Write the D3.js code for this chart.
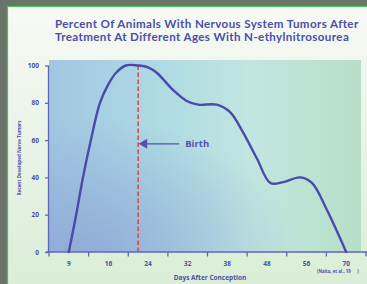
<!DOCTYPE html>
<html>
<head>
<meta charset="utf-8">
<script src="https://cdn.jsdelivr.net/npm/d3@7"></script>
<style>
  body { margin: 0; background: #6b7469; }
  svg { display: block; font-family: "Open Sans", sans-serif; font-weight: bold; }
</style>
</head>
<body>
<svg id="chart"></svg>
<script>
const width = 367;
const height = 284;

// data
const dayLabels = ['9', '16', '24', '32', '38', '48', '56', '70'];
const yTicks = [0, 20, 40, 60, 80, 100];
const days = [9, 10.3, 11.5, 12.9, 14.5, 16, 17.5, 19.5, 22, 24, 25.8, 29, 31.8, 33.6, 36.4, 38.7, 42, 45.5, 48.7, 51.3, 54.7, 57.9, 63.2, 70];
const tumors = [0, 20, 40, 60, 80, 90, 96, 100, 100, 99, 96, 87, 81, 79, 79, 75, 64, 50, 37, 37.5, 40, 37, 22.5, 0];
const birthDay = 22;

const textColor = '#4b4fa6';
const axisColor = '#5d68b6';

const svg = d3.select('#chart')
    .attr('width', width)
    .attr('height', height);

const defs = svg.append('defs');

const panelGrad = defs.append('linearGradient').attr('id', 'panel')
    .attr('x1', 0).attr('y1', 0).attr('x2', 0).attr('y2', 1);
panelGrad.append('stop').attr('offset', '0%').attr('stop-color', '#f7f9f5');
panelGrad.append('stop').attr('offset', '100%').attr('stop-color', '#d9eed6');

const plotGrad = defs.append('linearGradient').attr('id', 'plotH')
    .attr('x1', 0).attr('y1', 0).attr('x2', 1).attr('y2', 0);
plotGrad.append('stop').attr('offset', '0%').attr('stop-color', '#a2c6e2');
plotGrad.append('stop').attr('offset', '35%').attr('stop-color', '#aedae4');
plotGrad.append('stop').attr('offset', '65%').attr('stop-color', '#c2e6e0');
plotGrad.append('stop').attr('offset', '100%').attr('stop-color', '#b7dfc6');

const plotGradV = defs.append('radialGradient').attr('id', 'plotV')
    .attr('cx', 0.1).attr('cy', 1).attr('r', 0.7);
plotGradV.append('stop').attr('offset', '0%').attr('stop-color', '#8ea8d6').attr('stop-opacity', 0.9);
plotGradV.append('stop').attr('offset', '100%').attr('stop-color', '#8ea8d6').attr('stop-opacity', 0);

// panel with green border
svg.append('rect')
    .attr('x', 7.5).attr('y', 6.5)
    .attr('width', width).attr('height', height)
    .attr('fill', 'url(#panel)')
    .attr('stroke', '#4cc05c')
    .attr('stroke-width', 1.2);

const plotLeft = 49, plotRight = 366, plotTop = 60, plotBottom = 252;

const xBand = d3.scaleBand().domain(dayLabels).range([plotLeft, plotRight]);
const x = d3.scaleLinear()
    .domain(dayLabels.map(Number))
    .range(dayLabels.map(d => xBand(d) + xBand.bandwidth() / 2));
const y = d3.scaleLinear().domain([0, 100]).range([plotBottom, 65.5]);

svg.append('rect')
    .attr('x', plotLeft).attr('y', plotTop)
    .attr('width', 312).attr('height', plotBottom - plotTop)
    .attr('fill', 'url(#plotH)');
svg.append('rect')
    .attr('x', plotLeft).attr('y', plotTop)
    .attr('width', 312).attr('height', plotBottom - plotTop)
    .attr('fill', 'url(#plotV)');

// title, two lines
svg.append('text')
    .attr('x', 55).attr('y', 27.6)
    .attr('fill', textColor)
    .attr('font-family', 'Lato, sans-serif')
    .attr('font-size', 11.6)
    .attr('letter-spacing', 0.38)
    .text('Percent Of Animals With Nervous System Tumors After');
svg.append('text')
    .attr('x', 55).attr('y', 41)
    .attr('fill', textColor)
    .attr('font-family', 'Lato, sans-serif')
    .attr('font-size', 11.6)
    .attr('letter-spacing', 0.38)
    .text('Treatment At Different Ages With N-ethylnitrosourea');

// y axis
const yAxis = svg.append('g')
    .attr('transform', `translate(${plotLeft - 0.5}, 0)`)
    .call(d3.axisLeft(y).tickValues(yTicks).tickSize(3.5).tickPadding(6));
yAxis.select('.domain').attr('stroke', axisColor).attr('stroke-width', 1.3)
    .attr('d', `M0,${y(100)}V${plotBottom}`);
yAxis.selectAll('.tick line').attr('stroke', axisColor).attr('stroke-width', 1.3);
yAxis.selectAll('.tick text').attr('fill', textColor)
    .attr('font-size', 6.5).attr('font-family', '"Open Sans", sans-serif');

// x axis
const xAxis = svg.append('g')
    .attr('transform', `translate(0, ${plotBottom})`)
    .call(d3.axisBottom(xBand).tickSize(0).tickPadding(9));
xAxis.select('.domain').attr('stroke', axisColor).attr('stroke-width', 1.3)
    .attr('d', `M${plotLeft - 3},0H${plotRight + 1}`);
xAxis.selectAll('.tick text').attr('fill', textColor)
    .attr('font-size', 6.5).attr('font-family', '"Open Sans", sans-serif');
xAxis.selectAll('.bound').data(dayLabels.concat(['end']))
    .enter().append('line')
    .attr('x1', (d, i) => plotLeft + i * xBand.step())
    .attr('x2', (d, i) => plotLeft + i * xBand.step())
    .attr('y1', 0).attr('y2', 4.5)
    .attr('stroke', axisColor).attr('stroke-width', 1.3);

// axis titles
svg.append('text')
    .attr('x', 210).attr('y', 280)
    .attr('text-anchor', 'middle')
    .attr('fill', textColor).attr('font-size', 6.5)
    .text('Days After Conception');

svg.append('text')
    .attr('transform', `translate(21, 158) rotate(-90)`)
    .attr('text-anchor', 'middle')
    .attr('fill', textColor).attr('font-size', 4.6)
    .text('Recent Developed Nerve Tumors');

svg.append('text')
    .attr('x', 317).attr('y', 273)
    .attr('fill', textColor).attr('font-size', 4.3)
    .attr('xml:space', 'preserve')
    .text('(Naito, et al., 19      )');

// birth line
svg.append('line')
    .attr('x1', x(birthDay)).attr('x2', x(birthDay))
    .attr('y1', y(100)).attr('y2', plotBottom)
    .attr('stroke', '#e8413a')
    .attr('stroke-width', 1.5)
    .attr('stroke-dasharray', '4.5,2.5');

// curve
svg.append('path')
    .datum(days.map((d, i) => ({day: d, value: tumors[i]})))
    .attr('fill', 'none')
    .attr('stroke', '#4b49a9')
    .attr('stroke-width', 2.4)
    .attr('stroke-linecap', 'round')
    .attr('d', d3.line()
        .x(d => x(d.day))
        .y(d => y(d.value))
        .curve(d3.curveCatmullRom.alpha(0.5)));

// birth arrow
const ay = y(58);
svg.append('line')
    .attr('x1', x(birthDay) + 8).attr('x2', x(birthDay) + 41)
    .attr('y1', ay).attr('y2', ay)
    .attr('stroke', '#5352a8').attr('stroke-width', 1.1);
svg.append('path')
    .attr('d', `M${x(birthDay) + 0.5},${ay}L${x(birthDay) + 9},${ay - 5}L${x(birthDay) + 9},${ay + 5}Z`)
    .attr('fill', '#5352a8');
svg.append('text')
    .attr('x', x(birthDay) + 47).attr('y', ay + 3.5)
    .attr('fill', '#5352a8').attr('font-size', 9.5)
    .text('Birth');
</script>
</body>
</html>
